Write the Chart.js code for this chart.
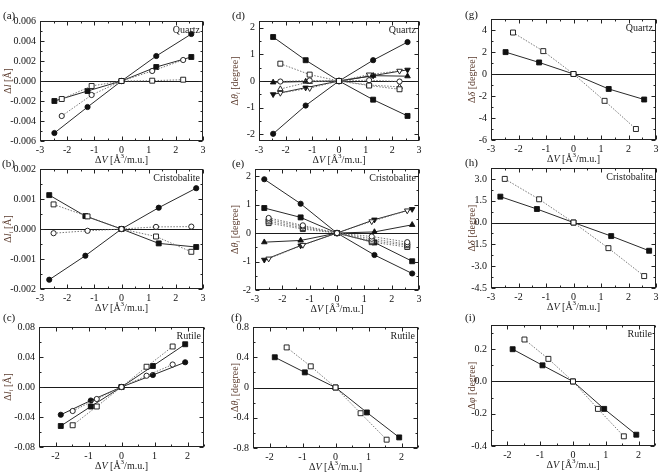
<!DOCTYPE html>
<html>
<head>
<meta charset="utf-8">
<script src="https://cdn.jsdelivr.net/npm/chart.js@4.4.1/dist/chart.umd.min.js"></script>
<style>
body { margin: 0; background: #fff; width: 662px; height: 475px; position: relative; overflow: hidden; font-family: "Liberation Serif", serif; }
canvas { position: absolute; }
.lbl { position: absolute; font-size: 11px; color: #111; z-index: 5; line-height: 13px; }
</style>
</head>
<body>
<div class="lbl" style="left:3px;top:9px">(a)</div>
<div class="lbl" style="left:232px;top:9px">(d)</div>
<div class="lbl" style="left:465px;top:8px">(g)</div>
<div class="lbl" style="left:2px;top:157px">(b)</div>
<div class="lbl" style="left:232px;top:157px">(e)</div>
<div class="lbl" style="left:465px;top:156px">(h)</div>
<div class="lbl" style="left:3px;top:311px">(c)</div>
<div class="lbl" style="left:231px;top:311px">(f)</div>
<div class="lbl" style="left:465px;top:311px">(i)</div>
<script>
// volume changes (x) for each structure
const xQuartzFilled = [-2.47, -1.25, 0, 1.28, 2.57];
const xQuartzOpen = [-2.2, -1.1, 0, 1.13, 2.27];
const xCristFilled = [-2.66, -1.33, 0, 1.37, 2.75];
const xCristOpen = [-2.5, -1.25, 0, 1.27, 2.57];
const xRutileFilled = [-1.84, -0.93, 0, 0.95, 1.93];
const xRutileOpen = [-1.48, -0.75, 0, 0.76, 1.55];

// (a) quartz, bond lengths
const aOpenSquare = [-0.0018, -0.0005, 0, 0.00003, 0.00013];
const aOpenCircle = [-0.0035, -0.0014, 0, 0.0010, 0.0021];
const aFilledSquare = [-0.0020, -0.0010, 0, 0.0014, 0.0024];
const aFilledCircle = [-0.0052, -0.0026, 0, 0.0025, 0.0047];

// (b) cristobalite, bond lengths
const bOpenCircle = [-0.00014, -0.00006, 0, 0.00007, 0.00008];
const bOpenSquare = [0.00082, 0.00042, 0, -0.00025, -0.00076];
const bFilledSquare = [0.00113, 0.00043, 0, -0.00048, -0.0006];
const bFilledCircle = [-0.00169, -0.00089, 0, 0.00071, 0.00136];

// (c) rutile, bond lengths
const cOpenCircle = [-0.032, -0.016, 0, 0.015, 0.030];
const cOpenSquare = [-0.051, -0.026, 0, 0.027, 0.054];
const cFilledCircle = [-0.037, -0.018, 0, 0.016, 0.033];
const cFilledSquare = [-0.052, -0.026, 0, 0.028, 0.057];

// (d) quartz, bond angles
const dOpenSquare = [0.65, 0.24, 0, -0.17, -0.31];
const dOpenCircle = [-0.02, 0.02, 0, 0.03, -0.02];
const dOpenUp = [-0.3, -0.03, 0, -0.15, -0.22];
const dOpenDown = [-0.45, -0.27, 0, 0.24, 0.38];
const dFilledSquare = [1.65, 0.78, 0, -0.70, -1.31];
const dFilledCircle = [-1.98, -0.92, 0, 0.78, 1.46];
const dFilledUp = [-0.05, -0.02, 0, 0.2, 0.18];
const dFilledDown = [-0.5, -0.25, 0, 0.2, 0.42];

// (e) cristobalite, bond angles
const eOpenCircle1 = [0.53, 0.27, 0, -0.12, -0.32];
const eOpenCircle2 = [0.47, 0.23, 0, -0.2, -0.39];
const eOpenSquare1 = [0.41, 0.18, 0, -0.27, -0.43];
const eOpenSquare2 = [0.35, 0.14, 0, -0.32, -0.49];
const eOpenDown = [-0.9, -0.42, 0, 0.41, 0.79];
const eFilledCircle = [1.89, 1.03, 0, -0.77, -1.42];
const eFilledSquare = [0.88, 0.55, 0, -0.33, -0.99];
const eFilledUp = [-0.32, -0.26, 0, 0.04, 0.29];
const eFilledDown = [-0.94, -0.44, 0, 0.47, 0.84];

// (f) rutile, bond angles
const fOpenSquare = [0.53, 0.28, 0, -0.34, -0.69];
const fFilledSquare = [0.40, 0.20, 0, -0.33, -0.66];

// (g) quartz, tilt
const gOpenSquare = [3.77, 2.08, 0, -2.44, -5.0];
const gFilledSquare = [1.99, 1.05, 0, -1.36, -2.32];

// (h) cristobalite, tilt
const hOpenSquare = [3.0, 1.6, 0, -1.76, -3.68];
const hFilledSquare = [1.78, 0.93, 0, -0.93, -1.94];

// (i) rutile, rotation
const iOpenSquare = [0.26, 0.14, 0, -0.17, -0.34];
const iFilledSquare = [0.20, 0.10, 0, -0.17, -0.33];

// tick values and labels
const xTicks3 = [-3, -2, -1, 0, 1, 2, 3];
const xLabels3 = ['-3', '-2', '-1', '0', '1', '2', '3'];
const xTicks2 = [-2, -1, 0, 1, 2];
const xLabels2 = ['-2', '-1', '0', '1', '2'];
const yTicksA = [-0.006, -0.004, -0.002, 0, 0.002, 0.004, 0.006];
const yLabelsA = ['-0.006', '-0.004', '-0.002', '0.000', '0.002', '0.004', '0.006'];
const yTicksB = [-0.002, -0.001, 0, 0.001, 0.002];
const yLabelsB = ['-0.002', '-0.001', '0.000', '0.001', '0.002'];
const yTicksC = [-0.08, -0.04, 0, 0.04, 0.08];
const yLabelsC = ['-0.08', '-0.04', '0.00', '0.04', '0.08'];
const yTicksD = [-2, -1, 0, 1, 2];
const yLabelsD = ['-2', '-1', '0', '1', '2'];
const yTicksF = [-0.8, -0.4, 0, 0.4, 0.8];
const yLabelsF = ['-0.8', '-0.4', '0', '0.4', '0.8'];
const yTicksG = [-6, -4, -2, 0, 2, 4];
const yLabelsG = ['-6', '-4', '-2', '0', '2', '4'];
const yTicksH = [-4.5, -3, -1.5, 0, 1.5, 3];
const yLabelsH = ['-4.5', '-3.0', '-1.5', '0.0', '1.5', '3.0'];
const yTicksI = [-0.4, -0.2, 0, 0.2];
const yLabelsI = ['-0.4', '-0.2', '0.0', '0.2'];

const xTitle = [['Δ', 'n'], ['V', 'i'], [' [Å', 'n'], ['3', 'sup'], ['/m.u.]', 'n']];
const titleL = [['Δ', 'n'], ['l', 'i'], [' [Å]', 'n']];
const titleLi = [['Δ', 'n'], ['l', 'i'], ['i', 'sub'], [' [Å]', 'n']];
const titleTheta = [['Δ', 'n'], ['θ', 'i'], ['i', 'sub'], [' [degree]', 'n']];
const titleDelta = [['Δ', 'n'], ['δ', 'i'], [' [degree]', 'n']];
const titlePhi = [['Δ', 'n'], ['φ', 'i'], [' [degree]', 'n']];

Chart.defaults.font.family = '"Liberation Serif", "Times New Roman", serif';
Chart.defaults.font.size = 10;
Chart.defaults.color = '#111';

const X_H = 28;

function series(xs, ys, marker, filled) {
    return {
        data: xs.map((x, i) => ({ x: x, y: ys[i] })),
        showLine: true,
        borderColor: filled ? '#2a2a2a' : '#6a6a6a',
        borderWidth: filled ? 1 : 0.9,
        borderDash: filled ? [] : [1.5, 1.5],
        pointStyle: marker === 'down' ? 'triangle' : marker,
        rotation: marker === 'down' ? 180 : 0,
        pointRadius: marker === 'circle' ? 2.6 : marker === 'rect' ? 3.5 : 3.2,
        pointBackgroundColor: filled ? '#111' : '#fff',
        pointBorderColor: '#111',
        pointBorderWidth: 0.9
    };
}

function fontFor(kind, size) {
    const small = kind === 'sub' || kind === 'sup';
    const italic = kind === 'i' || kind === 'sub';
    return (italic ? 'italic ' : '') + (small ? size * 0.7 : size) + 'px "Liberation Serif", serif';
}

function drawRich(ctx, segs, size) {
    let w = 0;
    segs.forEach(s => { ctx.font = fontFor(s[1], size); w += ctx.measureText(s[0]).width; });
    let x = -w / 2;
    segs.forEach(s => {
        ctx.font = fontFor(s[1], size);
        const dy = s[1] === 'sub' ? size * 0.3 : s[1] === 'sup' ? -size * 0.35 : 0;
        ctx.fillText(s[0], x, dy);
        x += ctx.measureText(s[0]).width;
    });
}

function minors(majors, min, max) {
    const step = majors[1] - majors[0];
    const out = [];
    for (let v = majors[0] - step / 2; v <= max + 1e-9; v += step) {
        if (v >= min - 1e-9) out.push(v);
    }
    return out;
}

const framePlugin = {
    id: 'frame',
    beforeDatasetsDraw(chart) {
        const { ctx, chartArea: a } = chart;
        const y0 = Math.round(chart.scales.y.getPixelForValue(0)) + 0.5;
        ctx.save();
        ctx.strokeStyle = '#1a1a1a';
        ctx.lineWidth = 1.2;
        ctx.beginPath();
        ctx.moveTo(a.left, y0);
        ctx.lineTo(a.right, y0);
        ctx.stroke();
        ctx.restore();
    },
    afterDraw(chart, args, o) {
        const { ctx, chartArea: a, scales: { x, y } } = chart;
        ctx.save();
        ctx.strokeStyle = '#222';
        ctx.lineWidth = 1;
        const l = Math.round(a.left) + 0.5, r = Math.round(a.right) - 0.5;
        const t = Math.round(a.top) + 0.5, b = Math.round(a.bottom) - 0.5;
        ctx.strokeRect(l, t, r - l, b - t);
        ctx.beginPath();
        const xt = (v, len) => {
            const p = Math.round(x.getPixelForValue(v)) + 0.5;
            ctx.moveTo(p, b); ctx.lineTo(p, b - len);
            ctx.moveTo(p, t); ctx.lineTo(p, t + len);
        };
        const yt = (v, len) => {
            const p = Math.round(y.getPixelForValue(v)) + 0.5;
            ctx.moveTo(l, p); ctx.lineTo(l + len, p);
            ctx.moveTo(r, p); ctx.lineTo(r - len, p);
        };
        o.xTicks.forEach(v => xt(v, 4));
        minors(o.xTicks, x.min, x.max).forEach(v => xt(v, 2));
        o.yTicks.forEach(v => yt(v, 4));
        minors(o.yTicks, y.min, y.max).forEach(v => yt(v, 2));
        ctx.stroke();

        ctx.fillStyle = '#222';
        ctx.font = '10px "Liberation Serif", serif';
        ctx.textAlign = 'right';
        ctx.textBaseline = 'middle';
        ctx.fillText(o.name, a.right - 3, a.top + 9);

        ctx.textAlign = 'left';
        ctx.textBaseline = 'middle';
        ctx.save();
        ctx.fillStyle = '#1a1a1a';
        ctx.translate((a.left + a.right) / 2, a.bottom + 19);
        drawRich(ctx, xTitle, 10);
        ctx.restore();
        ctx.save();
        ctx.fillStyle = '#5a3a2c';
        ctx.translate(o.titleX, (a.top + a.bottom) / 2);
        ctx.rotate(-Math.PI / 2);
        drawRich(ctx, o.yTitle, 10);
        ctx.restore();
        ctx.restore();
    }
};

function panel(p) {
    const c = document.createElement('canvas');
    c.width = p.cw;
    c.height = p.B + X_H - p.top;
    c.style.left = p.left + 'px';
    c.style.top = p.top + 'px';
    document.body.appendChild(c);
    new Chart(c.getContext('2d'), {
        type: 'scatter',
        data: { datasets: p.sets },
        plugins: [framePlugin],
        options: {
            responsive: false,
            animation: false,
            events: [],
            layout: { padding: { left: 0, top: p.T - p.top, right: p.left + p.cw - p.R, bottom: 0 } },
            plugins: {
                legend: { display: false },
                tooltip: { enabled: false },
                frame: { xTicks: p.xTicks, yTicks: p.yTicks, name: p.name, yTitle: p.yTitle, titleX: p.titleX - p.left }
            },
            scales: {
                x: {
                    type: 'linear', min: p.xr[0], max: p.xr[1],
                    grid: { display: false, drawTicks: false }, border: { display: false },
                    afterFit: s => { s.height = X_H; },
                    afterBuildTicks: s => { s.ticks = p.xTicks.map(v => ({ value: v })); },
                    ticks: { padding: 3, autoSkip: false, maxRotation: 0, callback: (v, i) => p.xLabels[i] }
                },
                y: {
                    type: 'linear', min: p.yr[0], max: p.yr[1],
                    grid: { display: false, drawTicks: false }, border: { display: false },
                    afterFit: s => { s.width = p.L - p.left; },
                    afterBuildTicks: s => { s.ticks = p.yTicks.map(v => ({ value: v })); },
                    ticks: { padding: 4, autoSkip: false, callback: (v, i) => p.yLabels[i] }
                }
            }
        }
    });
}

panel({ left: 0, top: 0, cw: 220, L: 40, R: 203, T: 21, B: 141, titleX: 8,
    xr: [-3, 3], yr: [-0.006, 0.006], xTicks: xTicks3, xLabels: xLabels3, yTicks: yTicksA, yLabels: yLabelsA,
    name: 'Quartz', yTitle: titleL,
    sets: [series(xQuartzOpen, aOpenSquare, 'rect', false), series(xQuartzOpen, aOpenCircle, 'circle', false),
        series(xQuartzFilled, aFilledSquare, 'rect', true), series(xQuartzFilled, aFilledCircle, 'circle', true)] });

panel({ left: 0, top: 150, cw: 220, L: 40, R: 203, T: 169, B: 289, titleX: 8,
    xr: [-3, 3], yr: [-0.002, 0.002], xTicks: xTicks3, xLabels: xLabels3, yTicks: yTicksB, yLabels: yLabelsB,
    name: 'Cristobalite', yTitle: titleLi,
    sets: [series(xCristOpen, bOpenCircle, 'circle', false), series(xCristOpen, bOpenSquare, 'rect', false),
        series(xCristFilled, bFilledSquare, 'rect', true), series(xCristFilled, bFilledCircle, 'circle', true)] });

panel({ left: 0, top: 305, cw: 220, L: 39, R: 204, T: 327, B: 447, titleX: 8,
    xr: [-2.5, 2.5], yr: [-0.08, 0.08], xTicks: xTicks2, xLabels: xLabels2, yTicks: yTicksC, yLabels: yLabelsC,
    name: 'Rutile', yTitle: titleLi,
    sets: [series(xRutileOpen, cOpenCircle, 'circle', false), series(xRutileOpen, cOpenSquare, 'rect', false),
        series(xRutileFilled, cFilledCircle, 'circle', true), series(xRutileFilled, cFilledSquare, 'rect', true)] });

panel({ left: 220, top: 0, cw: 220, L: 259, R: 419, T: 21, B: 141, titleX: 235,
    xr: [-3, 3], yr: [-2.25, 2.25], xTicks: xTicks3, xLabels: xLabels3, yTicks: yTicksD, yLabels: yLabelsD,
    name: 'Quartz', yTitle: titleTheta,
    sets: [series(xQuartzOpen, dOpenSquare, 'rect', false), series(xQuartzOpen, dOpenCircle, 'circle', false),
        series(xQuartzOpen, dOpenUp, 'triangle', false), series(xQuartzOpen, dOpenDown, 'down', false),
        series(xQuartzFilled, dFilledSquare, 'rect', true), series(xQuartzFilled, dFilledCircle, 'circle', true),
        series(xQuartzFilled, dFilledUp, 'triangle', true), series(xQuartzFilled, dFilledDown, 'down', true)] });

panel({ left: 220, top: 150, cw: 220, L: 255, R: 419, T: 169, B: 290, titleX: 235,
    xr: [-3, 3], yr: [-2, 2.25], xTicks: xTicks3, xLabels: xLabels3, yTicks: yTicksD, yLabels: yLabelsD,
    name: 'Cristobalite', yTitle: titleTheta,
    sets: [series(xCristOpen, eOpenCircle1, 'circle', false), series(xCristOpen, eOpenCircle2, 'circle', false),
        series(xCristOpen, eOpenSquare1, 'rect', false), series(xCristOpen, eOpenSquare2, 'rect', false),
        series(xCristOpen, eOpenDown, 'down', false),
        series(xCristFilled, eFilledCircle, 'circle', true), series(xCristFilled, eFilledSquare, 'rect', true),
        series(xCristFilled, eFilledUp, 'triangle', true), series(xCristFilled, eFilledDown, 'down', true)] });

panel({ left: 220, top: 305, cw: 220, L: 253, R: 418, T: 327, B: 448, titleX: 235,
    xr: [-2.5, 2.5], yr: [-0.8, 0.8], xTicks: xTicks2, xLabels: xLabels2, yTicks: yTicksF, yLabels: yLabelsF,
    name: 'Rutile', yTitle: titleTheta,
    sets: [series(xRutileOpen, fOpenSquare, 'rect', false), series(xRutileFilled, fFilledSquare, 'rect', true)] });

panel({ left: 440, top: 0, cw: 222, L: 491, R: 656, T: 19, B: 140, titleX: 472,
    xr: [-3, 3], yr: [-6, 5], xTicks: xTicks3, xLabels: xLabels3, yTicks: yTicksG, yLabels: yLabelsG,
    name: 'Quartz', yTitle: titleDelta,
    sets: [series(xQuartzOpen, gOpenSquare, 'rect', false), series(xQuartzFilled, gFilledSquare, 'rect', true)] });

panel({ left: 440, top: 150, cw: 222, L: 491, R: 656, T: 168, B: 288, titleX: 472,
    xr: [-3, 3], yr: [-4.5, 3.75], xTicks: xTicks3, xLabels: xLabels3, yTicks: yTicksH, yLabels: yLabelsH,
    name: 'Cristobalite', yTitle: titleDelta,
    sets: [series(xCristOpen, hOpenSquare, 'rect', false), series(xCristFilled, hFilledSquare, 'rect', true)] });

panel({ left: 440, top: 305, cw: 222, L: 491, R: 655, T: 325, B: 446, titleX: 472,
    xr: [-2.5, 2.5], yr: [-0.4, 0.35], xTicks: xTicks2, xLabels: xLabels2, yTicks: yTicksI, yLabels: yLabelsI,
    name: 'Rutile', yTitle: titlePhi,
    sets: [series(xRutileOpen, iOpenSquare, 'rect', false), series(xRutileFilled, iFilledSquare, 'rect', true)] });
</script>
</body>
</html>
